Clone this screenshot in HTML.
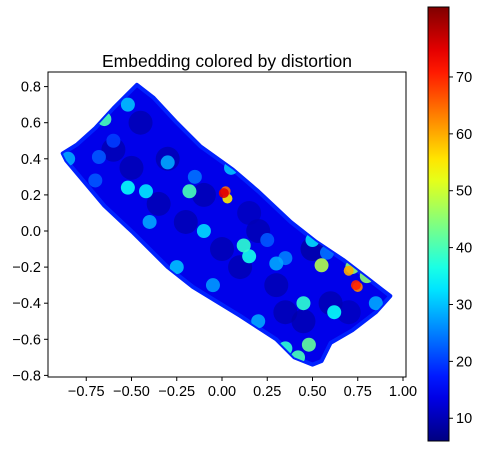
<!DOCTYPE html>
<html><head><meta charset="utf-8"><style>
body{margin:0;background:#fff;}
svg{display:block;font-family:"Liberation Sans","DejaVu Sans",sans-serif;}
</style></head><body>
<svg id="chart" width="481" height="449" xmlns="http://www.w3.org/2000/svg">
<text x="227" y="67" font-size="17.5" text-anchor="middle">Embedding colored by distortion</text>
<g id="plot"></g>
<rect x="48" y="72" width="358" height="305" fill="none" stroke="#000" stroke-width="1"/>
<g id="xaxis"></g>
<g id="yaxis"></g>
<g id="cbar"></g>
</svg>
<script>
// Region outline of the embedding (data coords), clockwise from the top corner
const boundaryX=[-0.47,-0.38,-0.25,-0.12,0.06,0.20,0.38,0.52,0.67,0.80,0.93,0.85,0.72,0.60,0.55,0.50,0.40,0.30,0.10,-0.16,-0.30,-0.49,-0.65,-0.86,-0.88,-0.80,-0.70,-0.60];
const boundaryY=[0.81,0.74,0.60,0.47,0.34,0.22,0.05,-0.06,-0.16,-0.26,-0.36,-0.45,-0.55,-0.62,-0.72,-0.74,-0.70,-0.60,-0.47,-0.31,-0.20,-0.01,0.14,0.39,0.43,0.48,0.57,0.68];
const baseValue=14;
// Patches of points: x, y, distortion
const ptX=[-0.45,-0.6,-0.3,-0.1,0.2,0.5,0.3,0.6,0.1,-0.2,0.45,0.7,-0.35,0.0,0.35,-0.5,0.15,-0.52,-0.65,-0.6,-0.7,-0.52,-0.42,-0.18,-0.3,-0.68,0.12,0.15,0.3,0.35,0.5,0.45,0.62,0.35,0.42,0.48,0.2,-0.25,0.72,-0.1,0.05,-0.4,0.85,-0.05,-0.85,0.58,0.25,-0.15,0.55,0.02,0.01,0.75,0.74,0.7,0.8,0.03];
const ptY=[0.6,0.45,0.4,0.2,0.0,-0.1,-0.3,-0.4,-0.2,0.05,-0.5,-0.45,0.15,-0.1,-0.45,0.35,0.1,0.7,0.62,0.5,0.28,0.24,0.22,0.22,0.38,0.41,-0.08,-0.14,-0.18,-0.15,-0.05,-0.4,-0.45,-0.65,-0.7,-0.63,-0.5,-0.2,-0.2,0.0,0.35,0.05,-0.4,-0.3,0.4,-0.12,-0.05,0.3,-0.19,0.22,0.21,-0.31,-0.3,-0.22,-0.25,0.18];
const ptV=[9,9,9,9,9,8,9,9,9,9,9,10,9,9,9,9,10,30,40,20,22,35,33,40,28,22,38,36,28,25,32,38,35,38,40,42,28,30,45,32,30,28,28,27,28,24,22,24,48,65,75,63,70,60,45,55];
const xTicks=[-0.75,-0.5,-0.25,0,0.25,0.5,0.75,1.0];
const yTicks=[-0.8,-0.6,-0.4,-0.2,0,0.2,0.4,0.6,0.8];
const cTicks=[10,20,30,40,50,60,70];
const vMin=6, vMax=82.3;

const NS="http://www.w3.org/2000/svg";
const sx=x=>222+181*x, sy=y=>231-180.5*y;
function jet(t){t=Math.max(0,Math.min(1,t));
 const f=v=>Math.round(255*Math.max(0,Math.min(1,v)));
 return `rgb(${f(1.5-Math.abs(4*t-3))},${f(1.5-Math.abs(4*t-2))},${f(1.5-Math.abs(4*t-1))})`;}
const col=v=>jet((v-vMin)/(vMax-vMin));
function mk(tag,attrs,parent){const e=document.createElementNS(NS,tag);for(const k in attrs)e.setAttribute(k,attrs[k]);parent.appendChild(e);return e;}

const plot=document.getElementById('plot');
const defs=mk('defs',{},plot);
const cp=mk('clipPath',{id:'regionClip'},defs);
const pts=boundaryX.map((x,i)=>sx(x).toFixed(1)+','+sy(boundaryY[i]).toFixed(1)).join(' ');
mk('polygon',{points:pts},cp);
const region=mk('polygon',{points:pts,fill:col(baseValue),stroke:col(18),'stroke-width':4,'stroke-linejoin':'round'},plot);


const g=mk('g',{'clip-path':'url(#regionClip)'},plot);
const order=ptV.map((v,i)=>i).sort((a,b)=>ptV[a]-ptV[b]);
order.forEach(i=>{
 const v=ptV[i];
 const r=v>50?5:(v<11?12:7);
 const c=mk('circle',{cx:sx(ptX[i]),cy:sy(ptY[i]),r:r,fill:col(v),opacity:v<11?0.7:0.9},g);
 
 
});

const xa=document.getElementById('xaxis');
xTicks.forEach(t=>{const x=sx(t);
 mk('line',{x1:x,x2:x,y1:377,y2:381,stroke:'#000'},xa);
 const tx=mk('text',{x:x,y:396,'font-size':14.5,'text-anchor':'middle'},xa);
 tx.textContent=(t<0?'\u2212':'')+Math.abs(t).toFixed(2);
 
 });
const ya=document.getElementById('yaxis');
yTicks.forEach(t=>{const y=sy(t);
 mk('line',{x1:44,x2:48,y1:y,y2:y,stroke:'#000'},ya);
 const tx=mk('text',{x:41,y:y+5,'font-size':14.5,'text-anchor':'end'},ya);
 tx.textContent=(t<0?'\u2212':'')+Math.abs(t).toFixed(1);
 
 });

const cb=document.getElementById('cbar');
const grad=mk('linearGradient',{id:'jetGrad',x1:0,y1:1,x2:0,y2:0},defs);
for(let i=0;i<=20;i++)mk('stop',{offset:i/20,'stop-color':jet(i/20)},grad);
const cbT=7,cbB=441;
mk('rect',{x:428,y:cbT,width:21,height:cbB-cbT,fill:'url(#jetGrad)',stroke:'#000','stroke-width':1},cb);
const cy=v=>cbB-(v-vMin)/(vMax-vMin)*(cbB-cbT);
cTicks.forEach(t=>{const y=cy(t);
 mk('line',{x1:449,x2:453,y1:y,y2:y,stroke:'#000'},cb);
 const tx=mk('text',{x:456,y:y+5,'font-size':14.5},cb);
 tx.textContent=t;
 
 });
</script>
</body></html>
